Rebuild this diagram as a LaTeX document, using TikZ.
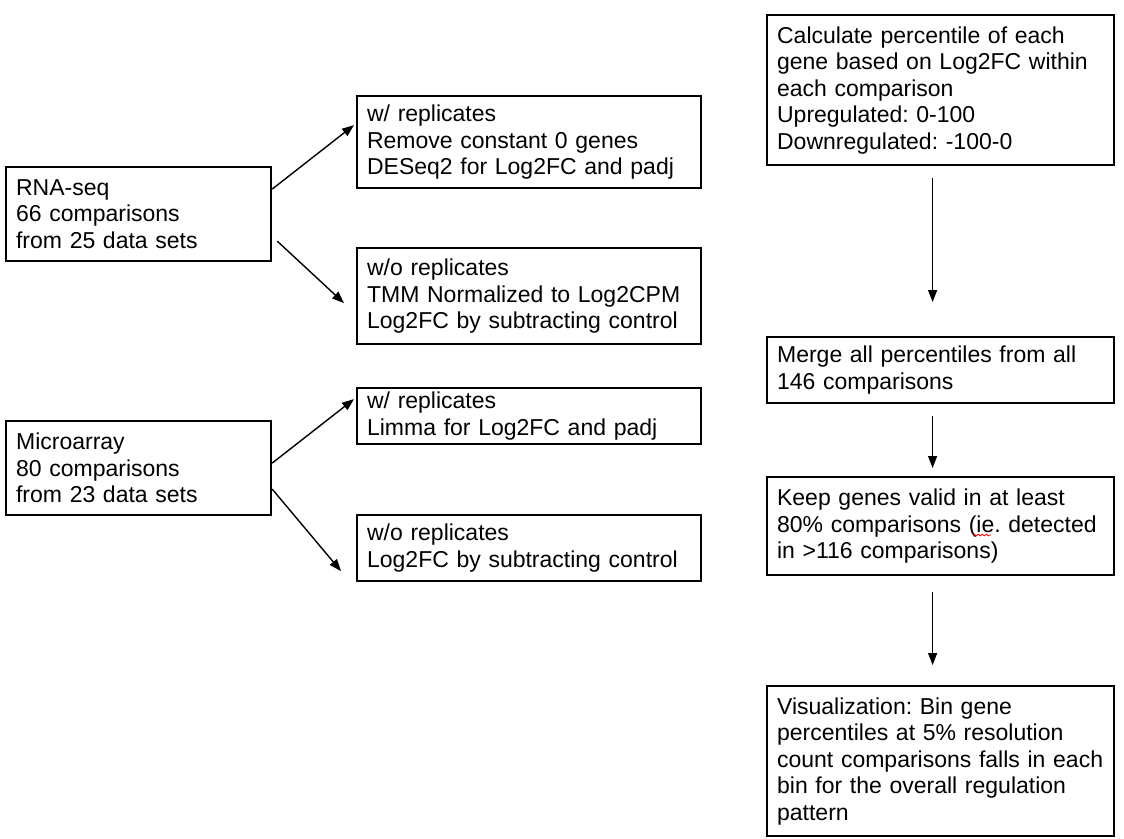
\documentclass[tikz,border=0pt]{standalone}
\usepackage{xcolor}
\usepackage{fontspec}
\setmainfont{Liberation Sans}
\usepackage{tikz}
\usetikzlibrary{shapes,arrows,positioning,calc,arrows.meta,decorations.pathmorphing}
\frenchspacing

\begin{document}
\begin{tikzpicture}[
      x=1pt,y=-1pt,
      box/.style={rectangle,draw,line width=2.2pt,anchor=north west,align=left,inner xsep=10pt,inner ysep=4pt,
        font=\fontsize{23pt}{26.5pt}\selectfont},
      leftbox/.style={box,text width=245pt,minimum height=94pt},
      midbox/.style={box,text width=324pt},
      rightbox/.style={box,text width=327pt},
      arrow/.style={-{Triangle[length=12pt,width=9pt]},line width=1.4pt}
      ]

      \useasboundingbox (0,0) rectangle (1124,838);

      \node[leftbox] (rna) at (5,166) {
        RNA-seq\\
        66 comparisons\\
        from 25 data sets
      };

      \node[leftbox] (micro) at (5,420) {
        Microarray\\
        80 comparisons\\
        from 23 data sets
      };

      \node[midbox,minimum height=92pt] (rnarep) at (356,95) {
        w/ replicates\\
        Remove constant 0 genes\\
        DESeq2 for Log2FC and padj
      };

      \node[midbox,minimum height=96pt] (rnanorep) at (356,247) {
        w/o replicates\\
        TMM Normalized to Log2CPM\\
        Log2FC by subtracting control
      };

      \node[midbox,minimum height=56pt] (microrep) at (356,387) {
        w/ replicates\\
        Limma for Log2FC and padj
      };

      \node[midbox,minimum height=66pt] (micronorep) at (356,514) {
        w/o replicates\\
        Log2FC by subtracting control
      };

      \node[rightbox,minimum height=150pt] (percentile) at (766,14) {
        Calculate percentile of each\\
        gene based on Log2FC within\\
        each comparison\\
        Upregulated: 0-100\\
        Downregulated: -100-0
      };

      \node[rightbox,minimum height=66pt] (merge) at (766,336) {
        Merge all percentiles from all\\
        146 comparisons
      };

      \node[rightbox,minimum height=98pt] (keep) at (766,476) {
        Keep genes valid in at least\\
        80\% comparisons (ie. detected\\
        in >116 comparisons)
      };

      \node[rightbox,minimum height=150pt] (vis) at (766,685) {
        Visualization: Bin gene\\
        percentiles at 5\% resolution\\
        count comparisons falls in each\\
        bin for the overall regulation\\
        pattern
      };

      \draw[red,line width=0.8pt,decorate,decoration={snake,amplitude=0.9pt,segment length=4pt}] (973,535) -- (991,535);

      \draw[arrow] ([yshift=25pt]rna.east) -- ([xshift=-2pt,yshift=17pt]rnarep.west);
      \draw[arrow] ([xshift=5pt,yshift=-27pt]rna.east) -- ([xshift=-12pt,yshift=-7pt]rnanorep.west);
      \draw[arrow] ([yshift=5pt]micro.east) -- ([xshift=-2pt,yshift=17pt]microrep.west);
      \draw[arrow] ([yshift=-21pt]micro.east) -- ([xshift=-15pt,yshift=-23pt]micronorep.west);

      \draw[arrow,shorten <=12pt,shorten >=34pt] ([xshift=-8pt]percentile.south) -- ([xshift=-8pt]merge.north);
      \draw[arrow,shorten <=12pt,shorten >=8pt] ([xshift=-8pt]merge.south) -- ([xshift=-8pt]keep.north);
      \draw[arrow,shorten <=16pt,shorten >=20pt] ([xshift=-8pt]keep.south) -- ([xshift=-8pt]vis.north);

    \end{tikzpicture}
\end{document}
